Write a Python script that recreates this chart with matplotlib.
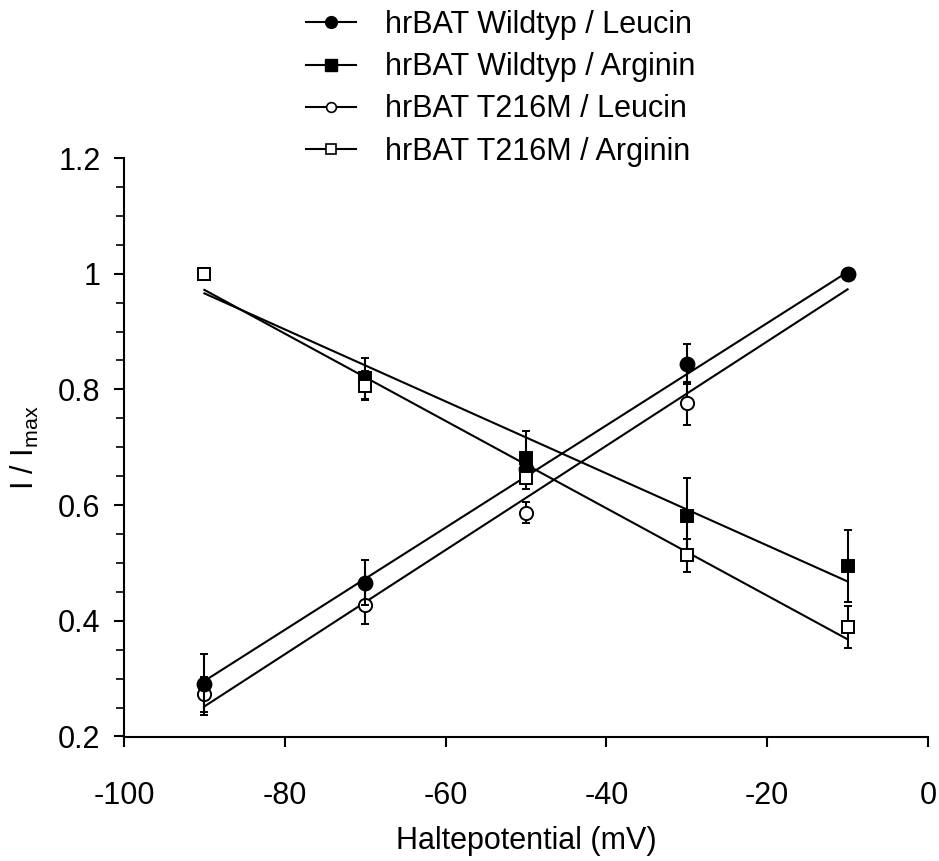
import numpy as np
import matplotlib
matplotlib.use('Agg')
import matplotlib.pyplot as plt
from matplotlib.lines import Line2D

plt.rcParams['font.family'] = ['Liberation Sans', 'DejaVu Sans']
plt.rcParams['mathtext.fontset'] = 'custom'
plt.rcParams['mathtext.rm'] = 'Liberation Sans'
plt.rcParams['mathtext.it'] = 'Liberation Sans'
plt.rcParams['axes.unicode_minus'] = False

# Holding potentials (mV)
potential = [-90, -70, -50, -30, -10]

# Normalised currents I/Imax
wt_leu = [0.290, 0.466, 0.662, 0.844, 1.000]
wt_leu_err = [0.053, 0.039, 0.015, 0.034, 0.0]
wt_arg = [1.000, 0.819, 0.682, 0.582, 0.495]
wt_arg_err = [0.0, 0.036, 0.046, 0.064, 0.062]
mut_leu = [0.273, 0.427, 0.587, 0.776, 1.000]
mut_leu_err = [0.030, 0.033, 0.018, 0.037, 0.0]
mut_arg = [1.000, 0.806, 0.646, 0.513, 0.389]
mut_arg_err = [0.0, 0.025, 0.019, 0.028, 0.036]

# Linear fit lines, end values at -90 and -10 mV
fit_x = [-90, -10]
wt_leu_fit = [0.296, 1.003]
wt_arg_fit = [0.966, 0.468]
mut_leu_fit = [0.252, 0.973]
mut_arg_fit = [0.972, 0.368]

labels = ['hrBAT Wildtyp / Leucin', 'hrBAT Wildtyp / Arginin',
          'hrBAT T216M / Leucin', 'hrBAT T216M / Arginin']

fig = plt.figure(figsize=(9.39, 8.61), dpi=100)
ax = fig.add_axes([124 / 939, 1 - 736.5 / 861, (928 - 124) / 939, (736.5 - 158) / 861])

# fit lines
for fy in (wt_leu_fit, wt_arg_fit, mut_leu_fit, mut_arg_fit):
    ax.plot(fit_x, fy, '-', color='black', linewidth=1.5, zorder=2)

# data with error bars (drawing order as in the original)
series = [
    (mut_leu, mut_leu_err, 'o', 'white', 9.5),
    (wt_leu, wt_leu_err, 'o', 'black', 10.0),
    (wt_arg, wt_arg_err, 's', 'black', 9.2),
    (mut_arg, mut_arg_err, 's', 'white', 9.0),
]
for i, (y, e, m, fc, ms) in enumerate(series):
    ax.errorbar(potential, y, yerr=e, fmt=m, color='black', mfc=fc, mec='black',
                ms=ms, mew=1.4, elinewidth=1.5, capsize=3.2, capthick=1.5,
                zorder=3 + i)

ax.set_xlim(-100, 0)
ax.set_ylim(0.2, 1.2)
ax.set_xticks(np.arange(-100, 1, 20))
ax.set_yticks([0.2, 0.4, 0.6, 0.8, 1.0, 1.2])
ax.set_yticklabels(['0.2', '0.4', '0.6', '0.8', '1', '1.2'])
ax.set_yticks(np.arange(0.2, 1.2, 0.05), minor=True)

for side in ('top', 'right'):
    ax.spines[side].set_visible(False)
for side in ('left', 'bottom'):
    ax.spines[side].set_linewidth(1.5)

ax.tick_params(axis='both', which='major', direction='out', length=7, width=1.5,
               labelsize=22)
ax.tick_params(axis='x', which='major', pad=25)
ax.tick_params(axis='y', which='major', pad=10)
ax.tick_params(axis='y', which='minor', direction='out', length=6, width=1.2)

ax.set_xlabel('Haltepotential (mV)', fontsize=22, labelpad=10.5)
ax.set_ylabel(r'I / I$_{\mathrm{max}}$', fontsize=22, labelpad=12)

# legend
handles = [
    Line2D([], [], color='black', lw=1.5, marker='o', mfc='black', mec='black', ms=8.5),
    Line2D([], [], color='black', lw=1.5, marker='s', mfc='black', mec='black', ms=8),
    Line2D([], [], color='black', lw=1.5, marker='o', mfc='white', mec='black', ms=7, mew=1.2),
    Line2D([], [], color='black', lw=1.5, marker='s', mfc='white', mec='black', ms=6.5, mew=1.2),
]
fig.legend(handles, labels, loc='upper left', bbox_to_anchor=(306 / 939, 1 - 10 / 861),
           frameon=False, fontsize=22, handlelength=1.65, handletextpad=0.95,
           labelspacing=0.40, borderpad=0, borderaxespad=0)

fig.savefig('out.png', dpi=100)
